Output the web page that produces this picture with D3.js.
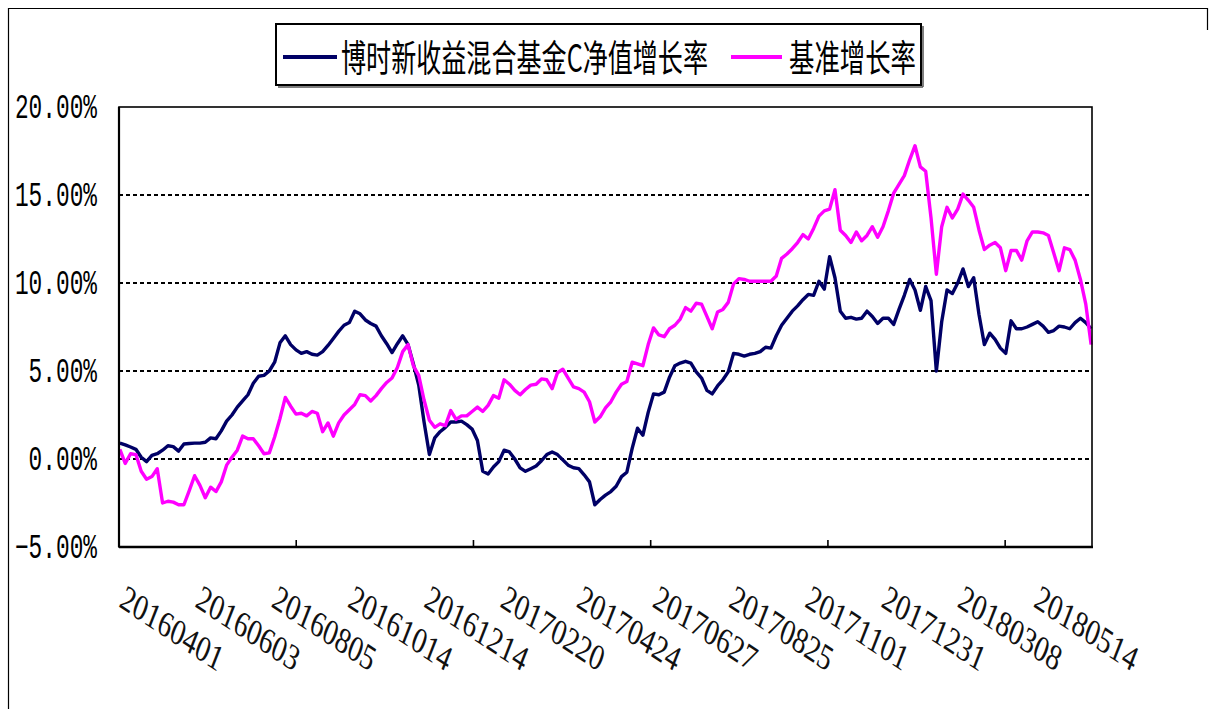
<!DOCTYPE html>
<html><head><meta charset="utf-8">
<script src="https://cdn.jsdelivr.net/npm/d3@7"></script>
<style>html,body{margin:0;padding:0;background:#fff;}svg{display:block;}</style>
</head><body>
<svg id="chart" width="1213" height="709"></svg>
<script>
// ---- data ----
const seriesNames = ["博时新收益混合基金C净值增长率", "基准增长率"];
const dateLabels = ["20160401","20160603","20160805","20161014","20161214","20170220","20170424","20170627","20170825","20171101","20171231","20180308","20180514"];
const N_DAYS = 549;          // trading days in the category axis
const LABEL_EVERY = 43;      // a date label every 43 trading days
const TICK_EVERY = 100;      // a tick mark every 100 trading days
const yTicks = [-5, 0, 5, 10, 15, 20];
// values (%) sampled every ~3 trading days
const fund = [
0.9,0.8,0.68,0.55,0.1,-0.15,0.2,0.3,0.5,0.75,
0.7,0.45,0.85,0.88,0.9,0.9,0.95,1.2,1.15,1.6,
2.15,2.5,2.95,3.3,3.65,4.3,4.7,4.75,5.0,5.5,
6.6,7.0,6.5,6.2,6.0,6.1,5.95,5.9,6.1,6.45,
6.85,7.25,7.6,7.75,8.4,8.25,7.9,7.7,7.55,7.0,
6.55,6.05,6.55,7.0,6.5,5.4,4.2,2.1,0.25,1.2,
1.55,1.8,2.1,2.1,2.15,1.95,1.7,1.05,-0.7,-0.85,
-0.45,-0.15,0.5,0.4,0.0,-0.5,-0.7,-0.55,-0.4,-0.1,
0.25,0.4,0.25,-0.05,-0.35,-0.5,-0.55,-0.9,-1.3,-2.6,
-2.3,-2.05,-1.85,-1.55,-1.0,-0.75,0.6,1.75,1.35,2.65,
3.7,3.65,3.8,4.65,5.3,5.45,5.55,5.45,4.95,4.6,
3.9,3.7,4.15,4.5,4.95,6.0,5.95,5.85,5.95,6.0,
6.1,6.35,6.3,7.0,7.6,8.0,8.4,8.7,9.05,9.35,
9.3,10.1,9.65,11.5,10.3,8.4,8.0,8.05,7.95,8.0,
8.4,8.1,7.7,8.0,8.0,7.65,8.5,9.3,10.2,9.6,
8.45,9.8,9.0,5.0,7.8,9.6,9.4,10.0,10.8,9.8,
10.3,8.2,6.5,7.15,6.8,6.3,6.0,7.85,7.4,7.4,
7.5,7.65,7.8,7.55,7.2,7.3,7.55,7.5,7.4,7.75,
8.0,7.75,7.4];
const bench = [
0.55,-0.25,0.3,0.25,-0.7,-1.15,-1.0,-0.55,-2.5,-2.4,
-2.45,-2.6,-2.6,-1.8,-0.95,-1.5,-2.2,-1.6,-1.85,-1.3,
-0.35,0.1,0.5,1.3,1.15,1.15,0.75,0.3,0.35,1.25,
2.3,3.5,3.0,2.55,2.6,2.45,2.7,2.6,1.55,2.05,
1.3,2.05,2.5,2.8,3.1,3.65,3.6,3.3,3.6,4.0,
4.35,4.6,5.2,6.1,6.5,5.3,4.75,3.35,2.2,1.8,
2.0,1.9,2.75,2.25,2.45,2.45,2.7,2.95,2.7,3.05,
3.6,3.45,4.5,4.25,3.9,3.65,3.95,4.2,4.25,4.55,
4.5,4.0,4.9,5.1,4.6,4.1,4.0,3.8,3.25,2.1,
2.4,2.9,3.25,3.8,4.25,4.4,5.5,5.4,5.3,6.5,
7.45,7.05,6.95,7.4,7.6,7.95,8.6,8.4,8.85,8.8,
8.1,7.4,8.35,8.5,8.9,9.95,10.25,10.2,10.1,10.1,
10.1,10.1,10.1,10.4,11.4,11.65,11.95,12.3,12.75,12.5,
13.1,13.8,14.1,14.2,15.3,13.0,12.7,12.3,12.9,12.4,
12.7,13.2,12.6,13.2,14.1,15.1,15.6,16.1,17.0,17.8,
16.6,16.35,13.7,10.5,13.2,14.3,13.7,14.2,15.05,14.7,
14.3,13.0,11.9,12.15,12.3,12.0,10.7,11.85,11.85,11.3,
12.4,12.9,12.9,12.85,12.7,11.7,10.7,12.0,11.9,11.3,
10.2,8.8,6.5];
const colors = ["#000066", "#ff00ff"];

// ---- drawing ----
const svg = d3.select("#chart");
const pL = 119, pR = 1092, pT = 107, pB = 547;
const x = d3.scaleLinear().domain([0, N_DAYS]).range([pL, pR]);
const y = d3.scaleLinear().domain([-5, 20]).range([pB, pT]);

svg.append("rect").attr("width",1213).attr("height",709).attr("fill","#fff");
// outer frame (left + top, small right stub as in the source image)
svg.append("path").attr("d","M8.5,709 V8.5 H1207.5 V30").attr("fill","none").attr("stroke","#000").attr("stroke-width",1.2);

// grid lines
svg.append("g").selectAll("line").data(yTicks.filter(t => t > -5 && t < 20)).join("line")
  .attr("x1", pL).attr("x2", pR).attr("y1", d => y(d)).attr("y2", d => y(d))
  .attr("stroke","#000").attr("stroke-width",2).attr("stroke-dasharray","4,3");

// lines
const n = fund.length;
const sx = k => x(k * (N_DAYS - 1) / (n - 1) + 0.5);
const line = d3.line().x((d, k) => sx(k)).y(d => y(d));
[fund, bench].forEach((s, i) => {
  svg.append("path").datum(s).attr("d", line).attr("fill","none")
    .attr("stroke", colors[i]).attr("stroke-width", 3.4).attr("stroke-linejoin","round");
});

// plot frame
svg.append("rect").attr("x", pL).attr("y", pT).attr("width", pR-pL).attr("height", pB-pT)
  .attr("fill","none").attr("stroke","#000").attr("stroke-width",1.6);
svg.append("line").attr("x1", pL).attr("x2", pR+1).attr("y1", pB).attr("y2", pB).attr("stroke","#000").attr("stroke-width",2.6);
svg.append("line").attr("x1", pL).attr("x2", pL).attr("y1", pT).attr("y2", pB).attr("stroke","#000").attr("stroke-width",2.2);

// x tick marks
const tickDays = d3.range(TICK_EVERY, N_DAYS, TICK_EVERY);
svg.append("g").selectAll("line").data(tickDays).join("line")
  .attr("x1", d => x(d)).attr("x2", d => x(d)).attr("y1", pB).attr("y2", pB - 7)
  .attr("stroke","#000").attr("stroke-width",1.6);

// y labels
svg.append("g").selectAll("text").data(yTicks).join("text")
  .attr("transform", d => `translate(97,${y(d) + 11}) scale(0.76,1.15)`)
  .attr("text-anchor","end").attr("font-family","Liberation Mono, DejaVu Sans Mono, monospace")
  .attr("font-size",30).attr("fill","#000")
  .text(d => d3.format(".2f")(d) + "%");

// x labels
svg.append("g").selectAll("text").data(dateLabels).join("text")
  .attr("transform", (d, j) => `translate(${x(j * LABEL_EVERY + 0.5) - 2},606) scale(1,1.3) rotate(27)`)
  .attr("font-family","Liberation Serif, Times New Roman, serif").attr("font-size",28).attr("fill","#111")
  .text(d => d);

// legend
const lg = svg.append("g");
lg.append("rect").attr("x",276).attr("y",24).attr("width",645).attr("height",61)
  .attr("fill","#fff").attr("stroke","#000").attr("stroke-width",2);
lg.append("line").attr("x1",278).attr("x2",923).attr("y1",87).attr("y2",87).attr("stroke","#555").attr("stroke-width",1.5);
lg.append("line").attr("x1",923).attr("x2",923).attr("y1",26).attr("y2",87).attr("stroke","#555").attr("stroke-width",1.5);
const legendItems = [
  {x1: 283, x2: 337, tx: 341, tw: 367},
  {x1: 731, x2: 782, tx: 789, tw: 127}
];
legendItems.forEach((it, i) => {
  lg.append("line").attr("x1", it.x1).attr("x2", it.x2).attr("y1", 57).attr("y2", 57)
    .attr("stroke", colors[i]).attr("stroke-width", 4);
  lg.append("text").attr("x", it.tx).attr("y", 72)
    .attr("font-family","Noto Sans CJK SC").attr("font-size",30)
    .attr("textLength", it.tw).attr("lengthAdjust","spacingAndGlyphs")
    .attr("transform", `translate(0,-${72*0.25}) scale(1,1.25)`)
    .attr("fill","#000").text(seriesNames[i]);
});
</script>
</body></html>
